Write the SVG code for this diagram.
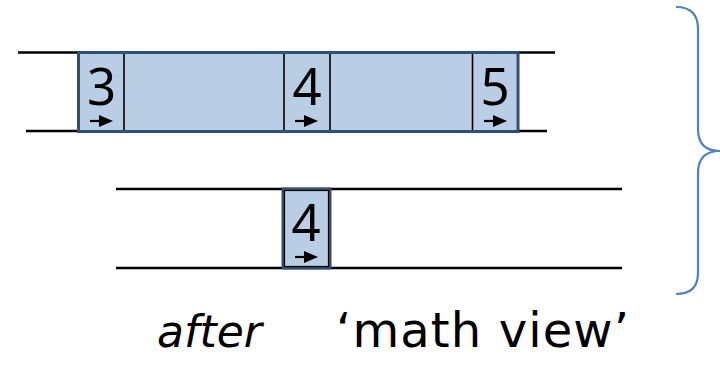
<svg xmlns="http://www.w3.org/2000/svg" width="720" height="368" viewBox="0 0 720 368">
<style>
.rail{stroke:#000;stroke-width:2.5;fill:none}
.band{fill:#B9CDE5;stroke:#2F4F74;stroke-width:3}
.div{stroke:#000;stroke-width:1.6;fill:none}
.digit{font-family:"Noto Sans","DejaVu Sans",sans-serif;font-size:51px;fill:#000}
.arr{stroke:#000;stroke-width:2.2;fill:none}
.lbl{font-family:"DejaVu Sans",sans-serif;font-size:44px;fill:#000}
.big{font-size:48px}
.brace{stroke:#4F81BD;stroke-width:2.2;fill:none}
</style>
<defs>
<g id="arrow"><line class="arr" x1="0" y1="0" x2="11" y2="0"/><polygon points="9,-6 23,0 9,6" fill="#000"/></g>
</defs>
<g id="connectors">
<line class="rail" x1="18" y1="52.5" x2="555" y2="52.5"/>
<line class="rail" x1="26" y1="131" x2="547" y2="131"/>
<line class="rail" x1="116" y1="189" x2="622" y2="189"/>
<line class="rail" x1="116" y1="268" x2="622" y2="268"/>
</g>
<g id="band">
<rect class="band" x="78.5" y="52.5" width="439.5" height="79"/>
<line class="div" x1="124" y1="54" x2="124" y2="130"/>
<line class="div" x1="284" y1="54" x2="284" y2="130"/>
<line class="div" x1="330" y1="54" x2="330" y2="130"/>
<line class="div" x1="472.5" y1="54" x2="472.5" y2="130"/>
</g>
<g id="cell3">
<text class="digit" x="101.5" y="105" text-anchor="middle">3</text>
<use href="#arrow" x="90" y="121"/>
</g>
<g id="cell4top">
<text class="digit" x="307" y="105" text-anchor="middle">4</text>
<use href="#arrow" x="295" y="121"/>
</g>
<g id="cell5">
<text class="digit" x="495" y="105" text-anchor="middle">5</text>
<use href="#arrow" x="484" y="121"/>
</g>
<g id="cell4bottom">
<rect x="283" y="189" width="47" height="79" fill="#B9CDE5" stroke="#2F4F74" stroke-width="3"/>
<rect x="284.5" y="190.5" width="44" height="76" fill="none" stroke="#000" stroke-width="1.2"/>
<text class="digit" x="306" y="241" text-anchor="middle">4</text>
<use href="#arrow" x="295" y="257"/>
</g>
<g id="brace">
<path class="brace" d="M676,7 Q698,7 698,29 L698,129 Q698,151 720,151 Q698,151 698,173 L698,273 Q698,294 676,294"/>
</g>
<g id="labels">
<text class="lbl" x="157" y="347" font-style="italic">after</text>
<text class="lbl big" x="336" y="347" textLength="293" lengthAdjust="spacing">‘math view’</text>
</g>
</svg>
